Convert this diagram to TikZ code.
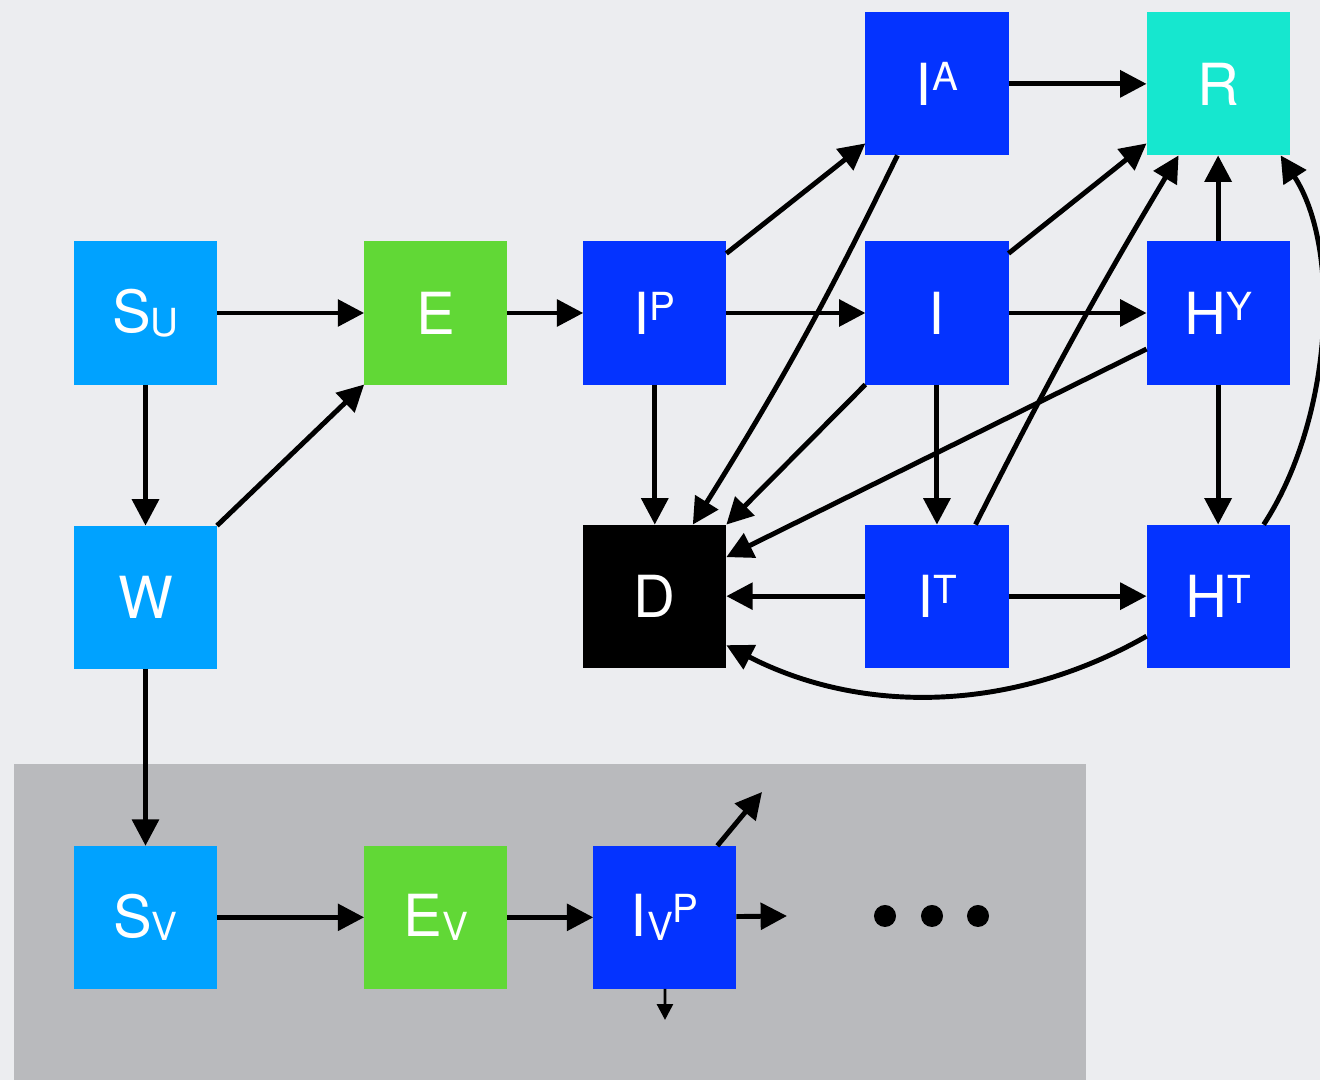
\documentclass[tikz,border=0pt]{standalone}
\usepackage{fontspec}
\setmainfont{TeX Gyre Heros}
\usetikzlibrary{arrows.meta,positioning}

\definecolor{bgcol}{HTML}{ECEDF0}
\definecolor{vaxcol}{HTML}{B9BABD}
\definecolor{susc}{HTML}{00A2FF}
\definecolor{expo}{HTML}{61D836}
\definecolor{infe}{HTML}{0433FF}
\definecolor{reco}{HTML}{16E7CF}

\newcommand{\supx}[1]{\raisebox{4pt}{\fontsize{11}{11}\selectfont #1}}
\newcommand{\subx}[1]{\raisebox{-1pt}{\fontsize{11}{11}\selectfont #1}}

\begin{document}
\begin{tikzpicture}[x=0.01cm, y=-0.01cm,
    comp/.style={rectangle, minimum size=1.43cm, inner sep=0pt, outer sep=0pt, text=white, font=\fontsize{16.5}{18}\selectfont},
    flow/.style={-{Triangle[length=7.5pt,width=7.5pt]}, line width=1.4pt},
    smallflow/.style={-{Triangle[length=4.5pt,width=4.5pt]}, line width=0.8pt}]
				\useasboundingbox (0,0) rectangle (1320,1080);
				\fill[bgcol] (0,0) rectangle (1320,1080);
				\fill[vaxcol] (14,764) rectangle (1086,1080);

				% unvaccinated
				\node[comp, fill=susc] (su) at (145.5,313) {S\subx{U}};
				\node[comp, fill=expo, right=1.47cm of su] (e) {E};
				\node[comp, fill=infe, right=0.76cm of e] (ip) {I\supx{P}};
				\node[comp, fill=infe, right=1.39cm of ip] (i) {I};
				\node[comp, fill=infe, right=1.38cm of i] (hy) {H\supx{Y}};
				\node[comp, fill=infe, above=0.86cm of i] (ia) {I\supx{A}};
				\node[comp, fill=reco, above=0.86cm of hy] (r) {R};
				\node[comp, fill=susc, below=1.41cm of su] (w) {W};
				\node[comp, fill=black, below=1.40cm of ip] (d) {D};
				\node[comp, fill=infe, below=1.40cm of i] (it) {I\supx{T}};
				\node[comp, fill=infe, below=1.40cm of hy] (ht) {H\supx{T}};

				% vaccinated
				\node[comp, fill=susc, below=1.77cm of w] (sv) {S\subx{V}};
				\node[comp, fill=expo, right=1.47cm of sv] (ev) {E\subx{V}};
				\node[comp, fill=infe, right=0.86cm of ev] (ivp) {I\subx{V}\supx{P}};
				\coordinate (ivpne) at (762,792);
				\coordinate (ivpe) at (787,916);
				\coordinate (ivps) at (665,1020);

				\draw[flow] (su) -- (e);
				\draw[flow] (su) -- (w);
				\draw[flow] (w.north east) -- (e.south west);
				\draw[flow] (e) -- (ip);
				\draw[flow] ([yshift=-0.12cm]ip.north east) -- ([yshift=0.12cm]ia.south west);
				\draw[flow] (ip) -- (i);
				\draw[flow] (ip) -- (d);
				\draw[flow] ([xshift=0.32cm]ia.south west) to[bend left=3] ([xshift=0.38cm]d.north);
				\draw[flow] (ia) -- (r);
				\draw[flow] (i.south west) -- (d.north east);
				\draw[flow] ([yshift=-0.12cm]i.north east) -- ([yshift=0.12cm]r.south west);
				\draw[flow] (i) -- (hy);
				\draw[flow] (i) -- (it);
				\draw[flow] ([yshift=-0.36cm]hy.west) -- ([yshift=0.39cm]d.east);
				\draw[flow] (hy) -- (r);
				\draw[flow] (hy) -- (ht);
				\draw[flow] ([xshift=0.385cm]it.north) to[bend left=2] ([xshift=-0.395cm]r.south);
				\draw[flow] (it) -- (d);
				\draw[flow] (it) -- (ht);
				\draw[flow] ([yshift=-0.40cm]ht.west) .. controls (1010,714) and (860,714) .. ([yshift=-0.49cm]d.east);
				\draw[flow] ([xshift=0.455cm]ht.north) .. controls (1332,420) and (1342,250) .. ([xshift=-0.09cm]r.south east);

				\draw[flow] (w) -- (sv);
				\draw[flow] (sv) -- (ev);
				\draw[flow] (ev) -- (ivp);
				\draw[flow] ([xshift=-0.19cm]ivp.north east) -- (ivpne);
				\draw[flow] (ivp) -- (ivpe);
				\draw[smallflow] (ivp) -- (ivps);
				\foreach \dx in {885,932,978}
					\fill (\dx,916) circle (0.11cm);
			\end{tikzpicture}
\end{document}
